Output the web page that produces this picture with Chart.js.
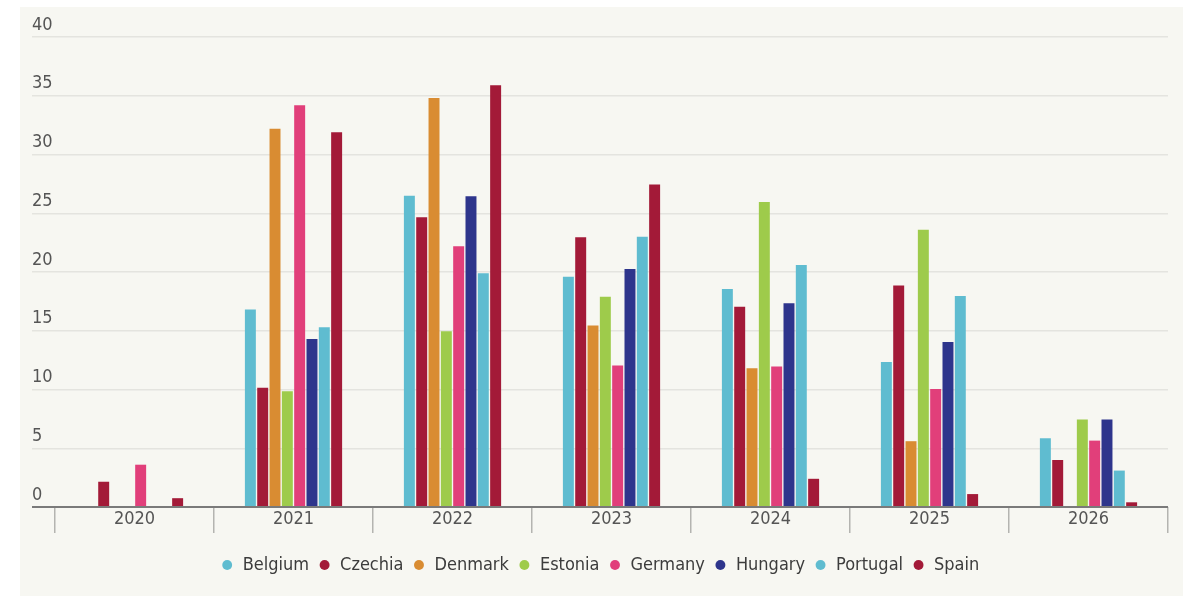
<!DOCTYPE html>
<html>
<head>
<meta charset="utf-8">
<script src="https://cdn.jsdelivr.net/npm/chart.js@4"></script>
<style>
  body { margin: 0; background: #ffffff; }
  #panel { position: absolute; left: 20px; top: 7px; width: 1163px; height: 589px; background: #f7f7f2; }
</style>
</head>
<body>
<div id="panel"><canvas id="chart"></canvas></div>
<script>
// categories and series values
const years = ['2020', '2021', '2022', '2023', '2024', '2025', '2026'];
const yTicks = [0, 5, 10, 15, 20, 25, 30, 35, 40];

const belgium  = [null, 16.8, 26.5, 19.6, 18.55, 12.35, 5.85];
const czechia  = [2.15, 10.15, 24.65, 22.95, 17.05, 18.85, 4.0];
const denmark  = [null, 32.2, 34.8, 15.45, 11.8, 5.6, null];
const estonia  = [null, 9.85, 14.95, 17.9, 25.95, 23.6, 7.45];
const germany  = [3.6, 34.2, 22.2, 12.05, 11.95, 10.05, 5.65];
const hungary  = [null, 14.3, 26.45, 20.25, 17.35, 14.05, 7.45];
const portugal = [null, 15.3, 19.9, 23.0, 20.6, 17.95, 3.1];
const spain    = [0.75, 31.9, 35.9, 27.45, 2.4, 1.1, 0.4];

const FONT = "'DejaVu Sans Condensed', 'DejaVu Sans', sans-serif";

function series(label, data, color) {
    return {
        label: label,
        data: data,
        backgroundColor: color,
        borderColor: color,
        borderWidth: 0,
        categoryPercentage: 0.62,
        barPercentage: 0.89
    };
}

const ctx = document.getElementById('chart').getContext('2d');

new Chart(ctx, {
    type: 'bar',
    data: {
        labels: years,
        datasets: [
            series('Belgium', belgium, '#5fbcd0'),
            series('Czechia', czechia, '#a31a38'),
            series('Denmark', denmark, '#d98c32'),
            series('Estonia', estonia, '#9ecb4b'),
            series('Germany', germany, '#e13f7a'),
            series('Hungary', hungary, '#2e358c'),
            series('Portugal', portugal, '#5fbcd0'),
            series('Spain', spain, '#a31a38')
        ]
    },
    options: {
        responsive: true,
        maintainAspectRatio: false,
        animation: false,
        layout: { padding: { left: 12, right: 15, top: 30, bottom: 12 } },
        scales: {
            x: {
                border: { display: false },
                grid: {
                    offset: true,
                    drawOnChartArea: false,
                    drawTicks: true,
                    tickLength: 26,
                    color: '#b4b4b0',
                    lineWidth: 1.5
                },
                ticks: {
                    padding: -24,
                    color: '#555555',
                    font: { family: FONT, size: 18 }
                },
                afterFit: (scale) => { scale.height = 40; }
            },
            y: {
                min: 0,
                max: 40,
                border: { display: false },
                afterBuildTicks: (scale) => { scale.ticks = yTicks.map(v => ({ value: v })); },
                afterFit: (scale) => { scale.width = 23; },
                grid: {
                    color: (c) => c.tick && c.tick.value === 0 ? '#7a7a7a' : '#e4e4df',
                    lineWidth: (c) => c.tick && c.tick.value === 0 ? 2 : 1.5,
                    drawTicks: true,
                    tickLength: 23
                },
                ticks: {
                    crossAlign: 'far',
                    labelOffset: -12,
                    padding: 0,
                    color: '#555555',
                    font: { family: FONT, size: 18 }
                }
            }
        },
        plugins: {
            tooltip: { enabled: false },
            legend: {
                position: 'bottom',
                labels: {
                    usePointStyle: true,
                    pointStyle: 'circle',
                    boxWidth: 13,
                    boxHeight: 7,
                    padding: 9,
                    color: '#3c3c3c',
                    font: { family: FONT, size: 18 }
                }
            }
        }
    }
});
</script>
</body>
</html>
